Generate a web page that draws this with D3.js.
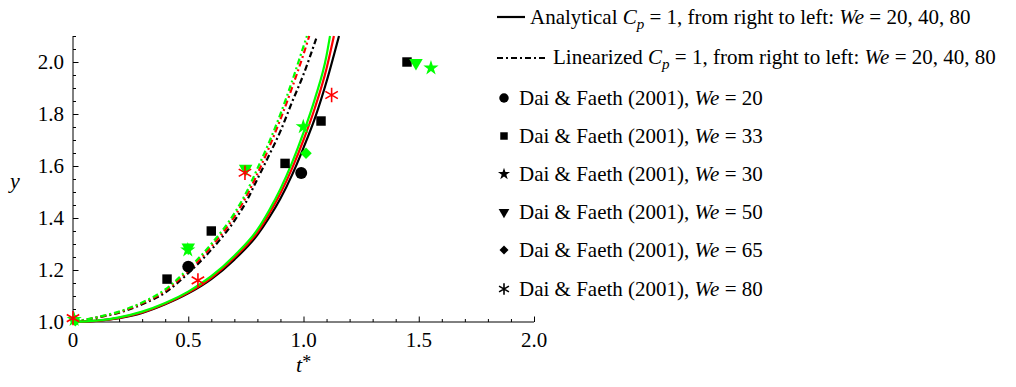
<!DOCTYPE html>
<html>
<head>
<meta charset="utf-8">
<script src="https://cdn.jsdelivr.net/npm/d3@7"></script>
<style>
  body { margin: 0; background: #fff; }
</style>
</head>
<body>
<div id="plot"></div>
<script>
// curves as [t*, y]
const analytical20 = [[0,1],[0.1,1.004],[0.2,1.015],[0.3,1.035],[0.4,1.068],[0.5,1.11],[0.6,1.165],[0.7,1.24],[0.8,1.335],[0.85,1.4],[0.9,1.475],[0.95,1.565],[1.0,1.67],[1.05,1.785],[1.1,1.925],[1.154,2.1]];
const analytical40 = [[0,1],[0.1,1.004],[0.2,1.016],[0.3,1.037],[0.4,1.07],[0.5,1.113],[0.6,1.17],[0.7,1.248],[0.8,1.345],[0.85,1.415],[0.9,1.495],[0.95,1.59],[1.0,1.7],[1.05,1.825],[1.1,1.975],[1.132,2.1]];
const analytical80 = [[0,1],[0.1,1.005],[0.2,1.018],[0.3,1.04],[0.4,1.073],[0.5,1.117],[0.6,1.176],[0.7,1.255],[0.8,1.355],[0.85,1.428],[0.9,1.512],[0.95,1.612],[1.0,1.728],[1.05,1.86],[1.1,2.025],[1.115,2.1]];
const linear20 = [[0,1],[0.1,1.016],[0.2,1.036],[0.3,1.068],[0.4,1.113],[0.5,1.188],[0.6,1.278],[0.7,1.389],[0.75,1.46],[0.8,1.55],[0.85,1.64],[0.9,1.734],[0.95,1.845],[1.0,1.952],[1.055,2.09]];
const linear40 = [[0,1],[0.1,1.017],[0.2,1.038],[0.3,1.072],[0.4,1.12],[0.5,1.197],[0.6,1.29],[0.7,1.405],[0.75,1.48],[0.8,1.57],[0.85,1.67],[0.9,1.78],[0.95,1.9],[1.0,2.03],[1.025,2.1]];
const linear80 = [[0,1],[0.1,1.018],[0.2,1.04],[0.3,1.075],[0.4,1.125],[0.5,1.205],[0.6,1.3],[0.7,1.418],[0.75,1.495],[0.8,1.59],[0.85,1.69],[0.9,1.8],[0.95,1.925],[1.0,2.06],[1.015,2.1]];

// Dai & Faeth (2001) experiments
const dai20 = [[0.5,1.213],[0.99,1.573]];
const dai33 = [[0.408,1.165],[0.6,1.35],[0.92,1.61],[1.076,1.773],[1.449,2.0]];
const dai30 = [[0.005,1.01],[0.498,1.277],[0.999,1.751],[1.553,1.977]];
const dai50 = [[0.5,1.287],[0.749,1.59],[1.488,1.997]];
const dai65 = [[0.01,1.005],[1.011,1.649]];
const dai80 = [[0,1.015],[0.542,1.16],[0.746,1.574],[1.122,1.873]];

const xTicks = [0, 0.5, 1.0, 1.5, 2.0];
const yTicks = [1.0, 1.2, 1.4, 1.6, 1.8, 2.0];

const width = 1016, height = 387;
const font = "'Liberation Serif', 'Times New Roman', 'DejaVu Serif', serif";
const x = d3.scaleLinear().domain([0, 2]).range([73, 534]);
const y = d3.scaleLinear().domain([1, 2.1]).range([322, 36]);

const svg = d3.select("#plot").append("svg")
    .attr("width", width)
    .attr("height", height)
    .attr("font-family", font);

svg.append("rect").attr("width", width).attr("height", height).attr("fill", "#fff");

// axes, ticks pointing inward
const xAxis = svg.append("g").attr("transform", "translate(0,322)");
xAxis.call(d3.axisTop(x).tickValues(d3.range(0, 2.01, 0.1)).tickSize(3).tickFormat(""));
xAxis.call(g => g.selectAll(".tick").filter(d => xTicks.some(v => Math.abs(v - d) < 1e-6)).select("line").attr("y2", -5.5));
xAxis.select(".domain").attr("d", "M73,0H534");

const yAxis = svg.append("g").attr("transform", "translate(73,0)");
yAxis.call(d3.axisRight(y).tickValues(d3.range(1, 2.101, 0.05)).tickSize(3).tickFormat(""));
yAxis.call(g => g.selectAll(".tick").filter(d => yTicks.some(v => Math.abs(v - d) < 1e-6)).select("line").attr("x2", 5.5));
yAxis.select(".domain").attr("d", "M0,36V322");

svg.selectAll(".xlab").data(xTicks).join("text")
    .attr("x", d => x(d))
    .attr("y", 347)
    .attr("text-anchor", "middle")
    .attr("font-family", font)
    .style("font-size", "21px")
    .text(d => d === 0 ? "0" : d.toFixed(1));

svg.selectAll(".ylab").data(yTicks).join("text")
    .attr("x", 64)
    .attr("y", d => y(d) + 7)
    .attr("text-anchor", "end")
    .attr("font-family", font)
    .style("font-size", "21px")
    .text(d => d.toFixed(1));

svg.append("text").attr("x", 15).attr("y", 188)
    .attr("text-anchor", "middle").attr("font-family", font)
    .style("font-size", "22px").style("font-style", "italic").text("y");

const tl = svg.append("text").attr("x", 296).attr("y", 372)
    .attr("font-family", font).style("font-size", "22px");
tl.append("tspan").style("font-style", "italic").text("t");
tl.append("tspan").attr("dy", -4).style("font-size", "18px").text("*");

// curves
const line = d3.line().x(d => x(d[0])).y(d => y(d[1])).curve(d3.curveMonotoneX);
const dashDot = "6,3,2,3";
const curves = [
  { data: linear20, color: "#000", dash: dashDot },
  { data: linear40, color: "#ff0000", dash: dashDot },
  { data: linear80, color: "#00ff00", dash: dashDot },
  { data: analytical20, color: "#000", dash: null },
  { data: analytical40, color: "#ff0000", dash: null },
  { data: analytical80, color: "#00ff00", dash: null }
];
svg.selectAll(".curve").data(curves).join("path")
    .attr("d", d => line(d.data))
    .attr("fill", "none")
    .attr("stroke", d => d.color)
    .attr("stroke-width", 2.2)
    .attr("stroke-dasharray", d => d.dash);

// marker shapes
function asterisk(r) {
  let p = "";
  for (let i = 0; i < 3; i++) {
    const a = Math.PI / 2 + i * Math.PI / 3;
    p += `M${r * Math.cos(a)},${r * Math.sin(a)}L${-r * Math.cos(a)},${-r * Math.sin(a)}`;
  }
  return p;
}
function marker(g, kind, size, color) {
  if (kind === "asterisk") {
    g.append("path").attr("d", asterisk(size * 0.6)).attr("stroke", color).attr("stroke-width", 1.6).attr("fill", "none");
    return;
  }
  const types = { circle: d3.symbolCircle, square: d3.symbolSquare, star: d3.symbolStar, triangle: d3.symbolTriangle, diamond: d3.symbolSquare };
  const area = { circle: 0.78, square: 0.62, star: 0.5, triangle: 0.55, diamond: 0.45 }[kind] * size * size;
  g.append("path")
      .attr("d", d3.symbol().type(types[kind]).size(area)())
      .attr("transform", kind === "triangle" ? "rotate(180)" : kind === "diamond" ? "rotate(45)" : null)
      .attr("fill", color);
}

const series = [
  { data: dai20, kind: "circle", color: "#000", label: "20" },
  { data: dai33, kind: "square", color: "#000", label: "33" },
  { data: dai30, kind: "star", color: "#00ff00", label: "30" },
  { data: dai50, kind: "triangle", color: "#00ff00", label: "50" },
  { data: dai65, kind: "diamond", color: "#00ff00", label: "65" },
  { data: dai80, kind: "asterisk", color: "#ff0000", label: "80" }
];
series.forEach(s => {
  s.data.forEach(p => {
    const g = svg.append("g").attr("transform", `translate(${x(p[0])},${y(p[1])})`);
    marker(g, s.kind, 12, s.color);
  });
});

// legend
const fs = "21px";
function eqText(x0, y0, prefix) {
  const tx = svg.append("text").attr("x", x0).attr("y", y0).attr("font-family", font).style("font-size", fs);
  tx.append("tspan").text(prefix + " ");
  tx.append("tspan").style("font-style", "italic").text("C");
  tx.append("tspan").attr("dy", 5).style("font-size", "15px").style("font-style", "italic").text("p");
  tx.append("tspan").attr("dy", -5).text(" = 1, from right to left: ");
  tx.append("tspan").style("font-style", "italic").text("We");
  tx.append("tspan").text(" = 20, 40, 80");
}
svg.append("line").attr("x1", 497).attr("x2", 525).attr("y1", 17).attr("y2", 17)
    .attr("stroke", "#000").attr("stroke-width", 2.2);
eqText(530, 24, "Analytical");
svg.append("line").attr("x1", 497).attr("x2", 548).attr("y1", 58).attr("y2", 58)
    .attr("stroke", "#000").attr("stroke-width", 2.2).attr("stroke-dasharray", dashDot);
eqText(553, 64, "Linearized");

const rowY = [98, 136, 174, 212, 250, 289];
series.forEach((s, i) => {
  const g = svg.append("g").attr("transform", `translate(504,${rowY[i]})`);
  marker(g, s.kind, 9.5, "#000");
  const tx = svg.append("text").attr("x", 519).attr("y", rowY[i] + 7).attr("font-family", font).style("font-size", fs);
  tx.append("tspan").text("Dai & Faeth (2001), ");
  tx.append("tspan").style("font-style", "italic").text("We");
  tx.append("tspan").text(" = " + s.label);
});
</script>
</body>
</html>
